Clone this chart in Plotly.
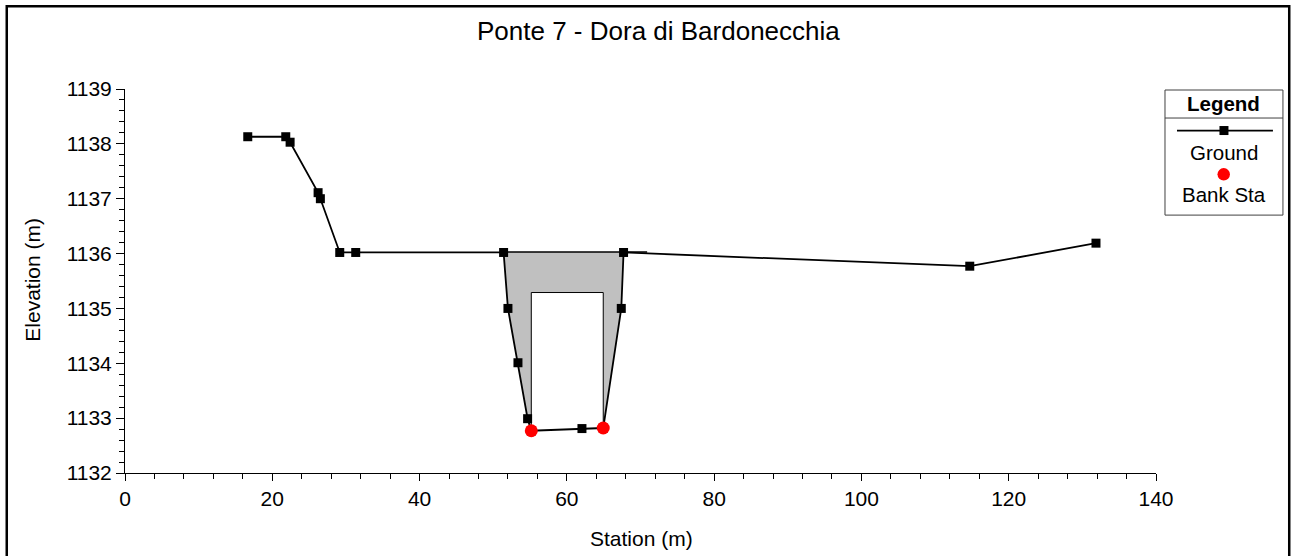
import plotly.graph_objects as go

# Ground survey points (station, elevation)
ground_sta = [16.67, 21.83, 22.42, 26.22, 26.53, 29.16, 31.33, 51.41, 52.0, 53.36,
              54.67, 55.17, 62.05, 64.94, 67.39, 67.70, 114.71, 131.85]
ground_elev = [1138.13, 1138.13, 1138.03, 1137.11, 1137.0, 1136.02, 1136.02, 1136.02,
               1135.0, 1134.01, 1132.99, 1132.77, 1132.81, 1132.82, 1135.0, 1136.02,
               1135.77, 1136.19]

# Bank stations
bank_sta = [55.17, 64.94]
bank_elev = [1132.77, 1132.82]

# Bridge deck / opening geometry
deck_left, deck_right = 51.41, 70.9
high_chord = 1136.03
low_chord = 1135.29
open_left, open_right = 55.17, 64.94

title_text = "Ponte 7 - Dora di Bardonecchia"
x_title = "Station (m)"
y_title = "Elevation (m)"

FONT = "Liberation Sans, Arial, sans-serif"

# plot-area pixel frame used for placing decorations in paper units
L, R, T, B = 124.5, 1156.0, 89.0, 472.7
W_PX, H_PX = 1297, 556


def px(xp):
    return (xp - L) / (R - L)


def py(yp):
    return (B - yp) / (B - T)


def label(text, xp, yp, size, angle=0):
    return dict(text=text, xref="paper", yref="paper", x=px(xp), y=py(yp),
                xanchor="center", yanchor="middle", showarrow=False,
                textangle=angle, font=dict(family=FONT, size=size, color="black"))


fig = go.Figure()

# Bridge deck: grey area between ground and high chord, minus the opening
deck_x = [deck_left, 67.70, 67.39, bank_sta[1], open_right, open_right,
          open_left, open_left, 54.67, 53.36, 52.0, deck_left]
deck_y = [high_chord, high_chord, 1135.0, bank_elev[1], bank_elev[1], low_chord,
          low_chord, bank_elev[0], 1132.99, 1134.01, 1135.0, high_chord]
fig.add_trace(go.Scatter(x=deck_x, y=deck_y, mode="lines", fill="toself",
                         fillcolor="#c0c0c0", line=dict(width=0),
                         hoverinfo="skip", showlegend=False))

# Opening outline
fig.add_trace(go.Scatter(x=[open_left, open_left, open_right, open_right],
                         y=[bank_elev[0], low_chord, low_chord, bank_elev[1]],
                         mode="lines", line=dict(color="black", width=1),
                         hoverinfo="skip", showlegend=False))

# Deck top line
fig.add_trace(go.Scatter(x=[deck_left, deck_right], y=[high_chord, high_chord],
                         mode="lines", line=dict(color="black", width=1.5),
                         hoverinfo="skip", showlegend=False))

# Ground profile
fig.add_trace(go.Scatter(x=ground_sta, y=ground_elev, mode="lines+markers",
                         line=dict(color="black", width=1.8),
                         marker=dict(symbol="square", size=9, color="black"),
                         name="Ground", showlegend=False))

# Bank stations
fig.add_trace(go.Scatter(x=bank_sta, y=bank_elev, mode="markers",
                         marker=dict(symbol="circle", size=13, color="#ff0000"),
                         name="Bank Sta", showlegend=False))

shapes = []
annotations = []

# Outer frame
shapes.append(dict(type="rect", xref="paper", yref="paper",
                   x0=px(6.2), x1=px(1289.3), y0=py(570), y1=py(6.2),
                   line=dict(color="black", width=2.5), fillcolor="rgba(0,0,0,0)",
                   layer="above"))

# Legend box
lx0, lx1, ly0, ly1 = 1165, 1283, 90, 215
shapes.append(dict(type="rect", xref="paper", yref="paper",
                   x0=px(lx0), x1=px(lx1), y0=py(ly1), y1=py(ly0),
                   line=dict(color="#404040", width=1), fillcolor="white"))
shapes.append(dict(type="line", xref="paper", yref="paper",
                   x0=px(lx0), x1=px(lx1), y0=py(118), y1=py(118),
                   line=dict(color="#404040", width=1)))
shapes.append(dict(type="line", xref="paper", yref="paper",
                   x0=px(1177), x1=px(1273), y0=py(130.5), y1=py(130.5),
                   line=dict(color="black", width=1.8)))
shapes.append(dict(type="rect", xref="paper", yref="paper",
                   x0=px(1219.5), x1=px(1228.5), y0=py(135), y1=py(126),
                   line=dict(color="black", width=0), fillcolor="black"))
shapes.append(dict(type="circle", xref="paper", yref="paper",
                   x0=px(1217.5), x1=px(1230), y0=py(180.5), y1=py(168),
                   line=dict(color="#ff0000", width=0), fillcolor="#ff0000"))

annotations.append(label("<b>Legend</b>", 1224, 103, 20.5))
annotations.append(label("Ground", 1224, 152, 20.5))
annotations.append(label("Bank Sta", 1224, 194, 20.5))

# Title and axis titles
annotations.append(label(title_text, 658, 31, 26))
annotations.append(label(x_title, 641, 538, 21))
annotations.append(label(y_title, 32, 280, 21, angle=-90))

fig.update_layout(
    width=W_PX, height=H_PX,
    margin=dict(l=L, r=W_PX - R, t=T, b=H_PX - B, pad=0),
    paper_bgcolor="white", plot_bgcolor="white",
    font=dict(family=FONT, size=21, color="black"),
    shapes=shapes, annotations=annotations,
    showlegend=False,
)

fig.update_xaxes(range=[0, 140], dtick=20, tick0=0, showgrid=False, zeroline=False,
                 showline=True, linecolor="black", linewidth=1,
                 ticks="outside", ticklen=7, tickwidth=1, tickcolor="black",
                 tickfont=dict(family=FONT, size=21),
                 minor=dict(dtick=4, ticks="outside", ticklen=5, tickwidth=1,
                            tickcolor="black", showgrid=False))
fig.update_yaxes(range=[1132, 1139], dtick=1, tick0=1132, showgrid=False,
                 zeroline=False, showline=True, linecolor="black", linewidth=1,
                 ticks="outside", ticklen=8, tickwidth=1, tickcolor="black",
                 tickfont=dict(family=FONT, size=21),
                 minor=dict(dtick=0.2, ticks="outside", ticklen=5, tickwidth=1,
                            tickcolor="black", showgrid=False))

fig.write_html("out.html")
